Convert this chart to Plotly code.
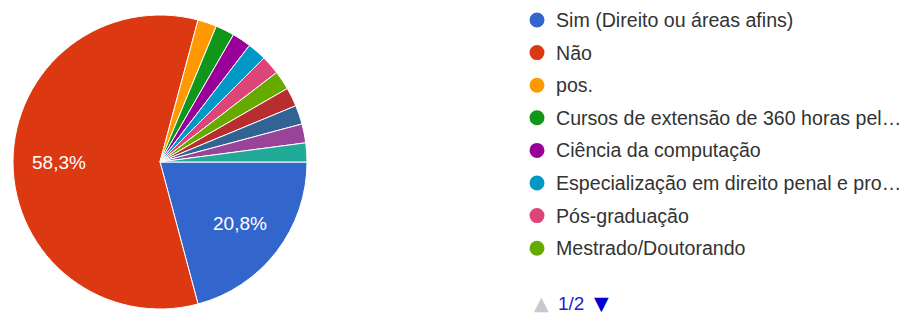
import math
import plotly.graph_objects as go

labels = [
    "Sim (Direito ou áreas afins)",
    "Não",
    "pos.",
    "Cursos de extensão de 360 horas pel…",
    "Ciência da computação",
    "Especialização em direito penal e pro…",
    "Pós-graduação",
    "Mestrado/Doutorando",
    "Outra resposta 9",
    "Outra resposta 10",
    "Outra resposta 11",
    "Outra resposta 12",
]
values = [10, 28, 1, 1, 1, 1, 1, 1, 1, 1, 1, 1]
colors = ["#3366cc", "#dc3912", "#ff9900", "#109618", "#990099", "#0099c6",
          "#dd4477", "#66aa00", "#b82e2e", "#316395", "#994499", "#22aa99"]
legend_page = "1/2"
legend_items_shown = 8

# page body has an 8px margin; figure is sized/placed to compensate
OX, OY = 8, 8
W, H = 907 - OX, 318 - OY


def px(x):
    return (x - OX) / W


def py(y):
    return 1 - (y - OY) / H


CX, CY, R = 160, 162, 147
start_deg = 90  # first slice starts at 3 o'clock, clockwise

total = sum(values)

fig = go.Figure()
fig.add_trace(go.Pie(
    labels=labels, values=values, sort=False, direction="clockwise",
    rotation=start_deg, textinfo="none",
    marker=dict(colors=colors, line=dict(color="white", width=1)),
    domain=dict(x=[px(CX - R), px(CX + R)], y=[py(CY + R), py(CY - R)]),
    showlegend=False, hoverinfo="label+percent",
))

annotations = []
shapes = []

# percentage labels for slices >= 5%, placed along the slice mid-angle
cum = 0
for v in values:
    frac = v / total
    mid = start_deg + (cum + frac / 2) * 360  # degrees clockwise from 12 o'clock
    cum += frac
    if frac * 100 < 5:
        continue
    a = math.radians(mid)
    lx = CX + 0.69 * R * math.sin(a)
    ly = CY - 0.69 * R * math.cos(a)
    annotations.append(dict(
        x=px(lx), y=py(ly), xref="paper", yref="paper",
        text=f"{frac * 100:.1f}".replace(".", ",") + "%",
        showarrow=False, xanchor="center", yanchor="middle",
        font=dict(family="Arial, Liberation Sans", size=19, color="white")))

y0, dy = 20, 32.6
for i in range(legend_items_shown):
    yc = y0 + i * dy
    shapes.append(dict(type="circle", xref="paper", yref="paper",
                       xsizemode="pixel", ysizemode="pixel",
                       xanchor=px(537), yanchor=py(yc),
                       x0=-7.5, x1=7.5, y0=-7.5, y1=7.5,
                       fillcolor=colors[i], line=dict(width=0)))
    annotations.append(dict(x=px(554), y=py(yc), xref="paper", yref="paper",
                            text=labels[i], showarrow=False, xanchor="left",
                            yanchor="middle",
                            font=dict(family="Arial, Liberation Sans", size=19.6,
                                      color="#333333")))

yp = py(303)
annotations.append(dict(x=px(541), y=yp, xref="paper", yref="paper", text="▲",
                        showarrow=False, xanchor="center", yanchor="middle",
                        font=dict(family="DejaVu Sans", size=19, color="#c8c8d2")))
annotations.append(dict(x=px(556), y=yp, xref="paper", yref="paper", text=legend_page,
                        showarrow=False, xanchor="left", yanchor="middle",
                        font=dict(family="Arial, Liberation Sans", size=19, color="#2222cc")))
annotations.append(dict(x=px(601), y=yp, xref="paper", yref="paper", text="▼",
                        showarrow=False, xanchor="center", yanchor="middle",
                        font=dict(family="DejaVu Sans", size=19, color="#0000cc")))

fig.update_layout(width=W, height=H, margin=dict(l=0, r=0, t=0, b=0),
                  paper_bgcolor="white", plot_bgcolor="white",
                  shapes=shapes, annotations=annotations)
fig.write_html("out.html")
